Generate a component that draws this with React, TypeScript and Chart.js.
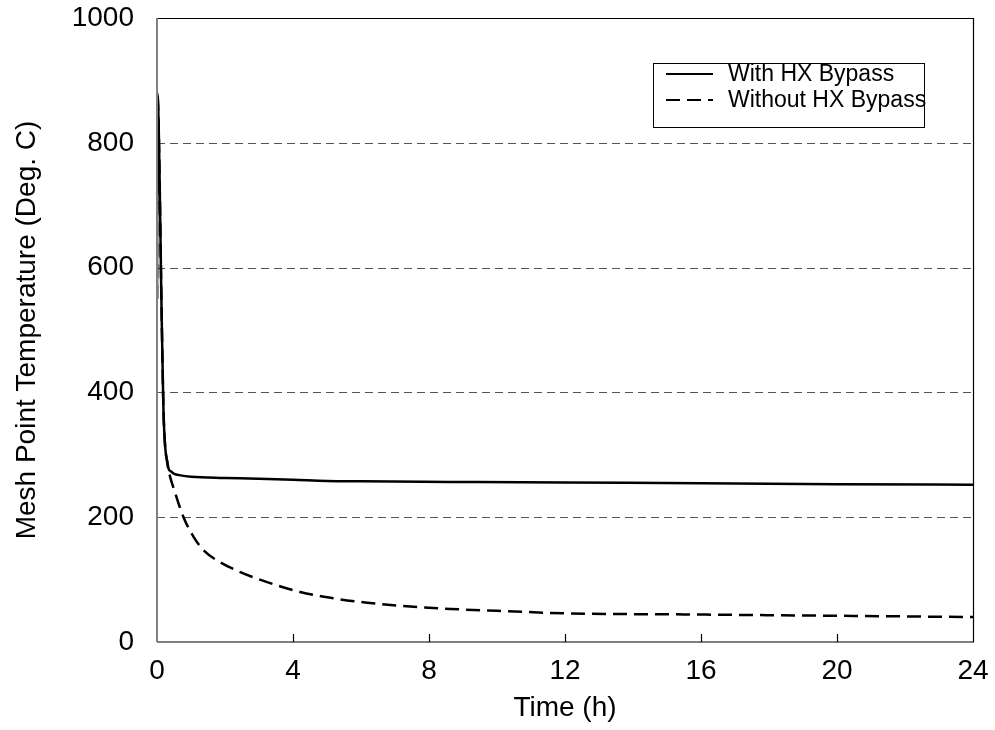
import React, { useEffect, useRef } from "react";
import { Chart, registerables } from "chart.js";

Chart.register(...registerables);

// ---- data ----
const seriesLabels = ["With HX Bypass", "Without HX Bypass"];

const timeWith = [0, 0.01, 0.15, 0.19, 0.24, 0.3, 0.34, 0.42, 0.49, 0.7, 1.0, 2.0, 2.7, 4.0, 5.0, 6.0, 8.6, 12, 16, 20, 24];
const tempWith = [550, 880, 484, 372, 313, 290, 278, 273, 270, 267, 265, 263, 262, 260, 258, 257.5, 256.6, 255.5, 254.5, 253, 252];

const timeWithout = [0, 0.01, 0.15, 0.19, 0.24, 0.3, 0.34, 0.54, 0.78, 1.08, 1.37, 1.76, 2.45, 3.24, 4.21, 5.19, 6.18, 7.16, 8.63, 10, 12, 16, 20, 24];
const tempWithout = [550, 880, 484, 372, 313, 288, 275, 238, 200, 168, 147, 131, 112, 96, 80, 70, 63, 58, 53, 50, 46, 44, 42, 40];

const xTicks = [0, 4, 8, 12, 16, 20, 24];
const yTicks = [0, 200, 400, 600, 800, 1000];
const yGridValues = [200, 400, 600, 800, 1000];

const xTitle = "Time (h)";
const yTitle = "Mesh Point Temperature (Deg. C)";

const FONT = "'Liberation Sans', Arial, Helvetica, sans-serif";

const framePlugin = {
  id: "frame",
  beforeDatasetsDraw(chart: any) {
    const { ctx, chartArea: a, scales } = chart;
    const y = scales.y;
    ctx.save();
    ctx.strokeStyle = "#555";
    ctx.lineWidth = 1;
    ctx.setLineDash([8, 5]);
    for (const v of yGridValues) {
      const py = Math.round(y.getPixelForValue(v)) + 0.5;
      ctx.beginPath();
      ctx.moveTo(a.left, py);
      ctx.lineTo(a.right, py);
      ctx.stroke();
    }
    ctx.restore();
  },
  afterDatasetsDraw(chart: any) {
    const { ctx, chartArea: a, scales } = chart;
    const x = scales.x;
    ctx.save();
    // box
    ctx.setLineDash([]);
    ctx.strokeStyle = "#000";
    ctx.lineWidth = 1.2;
    ctx.beginPath();
    ctx.moveTo(a.left, a.top + 0.5);
    ctx.lineTo(a.right + 0.5, a.top + 0.5);
    ctx.lineTo(a.right + 0.5, a.bottom);
    ctx.lineTo(a.left, a.bottom);
    ctx.stroke();
    ctx.strokeStyle = "#808080";
    ctx.lineWidth = 2;
    ctx.beginPath();
    ctx.moveTo(a.left, a.top);
    ctx.lineTo(a.left, a.bottom);
    ctx.stroke();
    // inward x tick marks
    ctx.strokeStyle = "#000";
    ctx.lineWidth = 1.2;
    for (const v of xTicks) {
      if (v === xTicks[0] || v === xTicks[xTicks.length - 1]) continue;
      const px = Math.round(x.getPixelForValue(v)) + 0.5;
      ctx.beginPath();
      ctx.moveTo(px, a.bottom);
      ctx.lineTo(px, a.bottom - 8);
      ctx.stroke();
    }
    // legend
    const bx = 653, by = 63, bw = 271, bh = 64;
    ctx.fillStyle = "#fff";
    ctx.fillRect(bx, by, bw, bh);
    ctx.strokeStyle = "#000";
    ctx.lineWidth = 1;
    ctx.strokeRect(bx + 0.5, by + 0.5, bw, bh);
    ctx.font = `23px ${FONT}`;
    ctx.textBaseline = "alphabetic";
    ctx.textAlign = "left";
    chart.data.datasets.forEach((ds: any, i: number) => {
      const rowY = 74 + i * 26;
      ctx.strokeStyle = "#000";
      ctx.lineWidth = 2;
      ctx.setLineDash(ds.borderDash || []);
      ctx.beginPath();
      ctx.moveTo(666, rowY);
      ctx.lineTo(713, rowY);
      ctx.stroke();
      ctx.setLineDash([]);
      ctx.fillStyle = "#000";
      ctx.fillText(ds.label, 728, rowY + 7);
    });
    ctx.restore();
  },
};

export default function App() {
  const ref = useRef<HTMLCanvasElement | null>(null);

  useEffect(() => {
    if (!ref.current) return;
    const chart = new Chart(ref.current, {
      type: "line",
      data: {
        datasets: [
          {
            label: seriesLabels[0],
            data: timeWith.map((t, i) => ({ x: t, y: tempWith[i] })),
            borderColor: "#000",
            borderWidth: 2.5,
            pointRadius: 0,
            cubicInterpolationMode: "monotone",
            fill: false,
          },
          {
            label: seriesLabels[1],
            data: timeWithout.map((t, i) => ({ x: t, y: tempWithout[i] })),
            borderColor: "#000",
            borderWidth: 2.5,
            borderDash: [14, 7],
            pointRadius: 0,
            cubicInterpolationMode: "monotone",
            fill: false,
          },
        ],
      },
      options: {
        animation: false,
        responsive: false,
        devicePixelRatio: 1,
        layout: { padding: { left: 0, right: 22, top: 18, bottom: 0 } },
        plugins: { legend: { display: false }, tooltip: { enabled: false } },
        scales: {
          x: {
            type: "linear",
            min: 0,
            max: 24,
            afterBuildTicks: (s: any) => {
              s.ticks = xTicks.map((v) => ({ value: v }));
            },
            afterFit: (s: any) => {
              s.height = 88;
              s.paddingLeft = 0;
              s.paddingRight = 0;
            },
            grid: { display: false },
            border: { display: false },
            ticks: {
              color: "#000",
              font: { family: FONT, size: 28 },
              padding: 4,
              maxRotation: 0,
              autoSkip: false,
              callback: (v: any) => String(v),
            },
            title: {
              display: true,
              text: xTitle,
              color: "#000",
              font: { family: FONT, size: 28 },
              padding: { top: 0, bottom: 5 },
            },
          },
          y: {
            type: "linear",
            min: 0,
            max: 1000,
            afterBuildTicks: (s: any) => {
              s.ticks = yTicks.map((v) => ({ value: v }));
            },
            afterFit: (s: any) => {
              s.width = 157;
              s.paddingTop = 0;
              s.paddingBottom = 0;
            },
            grid: { display: false },
            border: { display: false },
            ticks: {
              color: "#000",
              font: { family: FONT, size: 28 },
              padding: 15,
              autoSkip: false,
              callback: (v: any) => String(v),
            },
            title: {
              display: true,
              text: yTitle,
              color: "#000",
              font: { family: FONT, size: 28 },
              padding: { top: 10, bottom: 0 },
            },
          },
        },
      },
      plugins: [framePlugin],
    } as any);
    return () => chart.destroy();
  }, []);

  return (
    <div style={{ position: "absolute", left: 0, top: 0, width: 995, height: 730, background: "#fff" }}>
      <canvas ref={ref} width={995} height={730} style={{ display: "block" }} />
    </div>
  );
}
